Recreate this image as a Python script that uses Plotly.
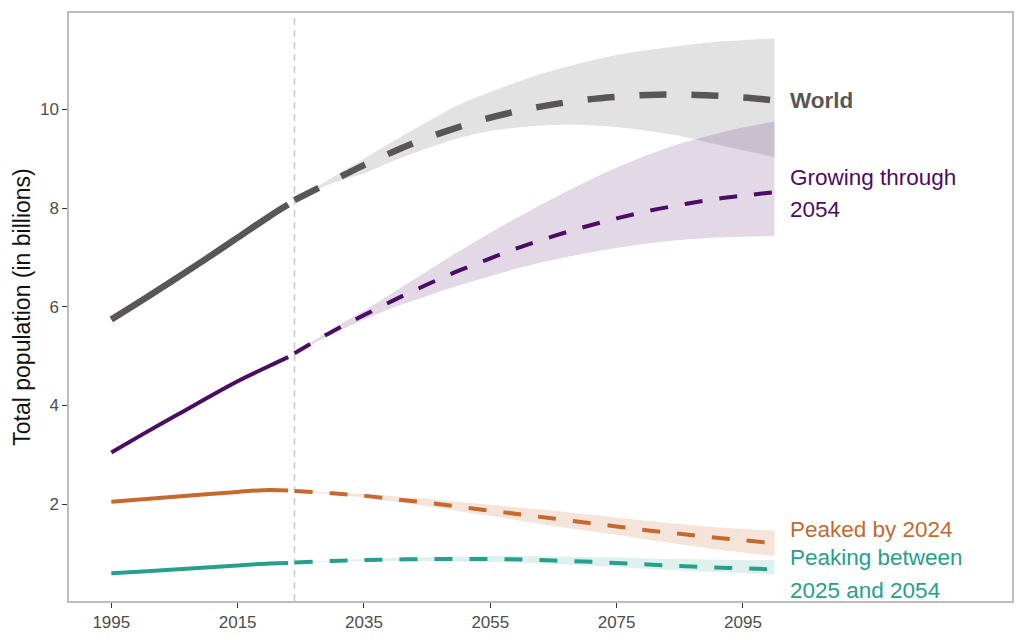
import plotly.graph_objects as go

# ---------------- data (billions) ----------------
hist_years = [1995, 2000, 2005, 2010, 2015, 2020, 2023]
proj_years = [2024, 2030, 2035, 2040, 2045, 2050, 2055, 2060, 2065, 2070,
              2075, 2080, 2085, 2090, 2095, 2100]

world_hist = [5.74, 6.14, 6.55, 6.97, 7.40, 7.83, 8.07]
world_proj = [8.16, 8.55, 8.87, 9.16, 9.42, 9.64, 9.83, 9.98, 10.10, 10.19,
              10.25, 10.29, 10.30, 10.28, 10.24, 10.18]
world_hi = [8.16, 8.62, 9.00, 9.38, 9.74, 10.09, 10.35, 10.59, 10.79, 10.96,
            11.10, 11.20, 11.28, 11.36, 11.40, 11.44]
world_lo = [8.16, 8.50, 8.70, 8.97, 9.21, 9.42, 9.56, 9.64, 9.68, 9.68,
            9.64, 9.56, 9.46, 9.31, 9.17, 9.03]

grow_hist = [3.05, 3.42, 3.78, 4.14, 4.49, 4.80, 4.98]
grow_proj = [5.06, 5.50, 5.83, 6.15, 6.45, 6.73, 6.98, 7.22, 7.43, 7.62,
             7.79, 7.94, 8.06, 8.17, 8.25, 8.32]
grow_hi = [5.06, 5.55, 5.92, 6.32, 6.72, 7.12, 7.50, 7.86, 8.20, 8.52,
           8.82, 9.08, 9.30, 9.48, 9.63, 9.75]
grow_lo = [5.06, 5.45, 5.74, 6.00, 6.22, 6.43, 6.62, 6.80, 6.95, 7.08,
           7.19, 7.28, 7.35, 7.40, 7.42, 7.43]

peaked_hist = [2.05, 2.10, 2.15, 2.20, 2.25, 2.29, 2.28]
peaked_proj = [2.27, 2.22, 2.17, 2.10, 2.03, 1.95, 1.87, 1.79, 1.71, 1.63,
               1.55, 1.47, 1.40, 1.33, 1.27, 1.21]
peaked_hi = [2.27, 2.24, 2.21, 2.16, 2.11, 2.05, 1.99, 1.93, 1.87, 1.80,
             1.73, 1.66, 1.60, 1.54, 1.50, 1.46]
peaked_lo = [2.27, 2.20, 2.13, 2.05, 1.96, 1.86, 1.76, 1.66, 1.56, 1.47,
             1.38, 1.28, 1.19, 1.10, 1.02, 0.95]

peaking_hist = [0.60, 0.64, 0.68, 0.72, 0.76, 0.80, 0.81]
peaking_proj = [0.82, 0.85, 0.87, 0.88, 0.89, 0.89, 0.89, 0.88, 0.86, 0.84,
                0.81, 0.78, 0.75, 0.72, 0.70, 0.68]
peaking_hi = [0.82, 0.86, 0.89, 0.91, 0.93, 0.94, 0.95, 0.95, 0.94, 0.93,
              0.92, 0.90, 0.89, 0.88, 0.87, 0.87]
peaking_lo = [0.82, 0.84, 0.85, 0.85, 0.85, 0.84, 0.83, 0.81, 0.79, 0.76,
              0.73, 0.69, 0.66, 0.63, 0.60, 0.58]

x_ticks = [1995, 2015, 2035, 2055, 2075, 2095]
y_ticks = [2, 4, 6, 8, 10]
cutoff_year = 2024

label_year = 2102.2
labels = [
    ("<b>World</b>", 10.18, "#5a5557"),
    ("Growing through", 8.62, "#4b0d63"),
    ("2054", 7.96, "#4b0d63"),
    ("Peaked by 2024", 1.48, "#c5692f"),
    ("Peaking between", 0.92, "#26a08c"),
    ("2025 and 2054", 0.26, "#26a08c"),
]

FONT = "Liberation Sans, Arial, sans-serif"

# ---------------- styling ----------------
series = [
    (world_hist, world_proj, world_hi, world_lo, "#5a5557", "rgba(90,85,87,0.17)", 6.5, "27px,25px"),
    (grow_hist, grow_proj, grow_hi, grow_lo, "#4b0d63", "rgba(75,13,99,0.16)", 4, "18px,17px"),
    (peaked_hist, peaked_proj, peaked_hi, peaked_lo, "#c5692f", "rgba(197,105,47,0.18)", 4, "18px,17px"),
    (peaking_hist, peaking_proj, peaking_hi, peaking_lo, "#26a08c", "rgba(38,160,140,0.15)", 4, "18px,17px"),
]

fig = go.Figure()

# bands
for h, p, hi, lo, col, fill, w, dash in series:
    fig.add_trace(go.Scatter(x=proj_years, y=hi, mode="lines", line=dict(width=0, shape="spline"),
                             hoverinfo="skip", showlegend=False))
    fig.add_trace(go.Scatter(x=proj_years, y=lo, mode="lines", line=dict(width=0, shape="spline"),
                             fill="tonexty", fillcolor=fill, hoverinfo="skip", showlegend=False))

# lines
for h, p, hi, lo, col, fill, w, dash in series:
    fig.add_trace(go.Scatter(x=hist_years, y=h, mode="lines",
                             line=dict(color=col, width=w, shape="spline"), showlegend=False))
    fig.add_trace(go.Scatter(x=proj_years, y=p, mode="lines",
                             line=dict(color=col, width=w, dash=dash, shape="spline"), showlegend=False))

fig.add_shape(type="line", x0=cutoff_year, x1=cutoff_year, y0=0, y1=1, yref="paper",
              line=dict(color="#c8c8c8", width=1.5, dash="7px,5px"), layer="below")

for txt, yv, col in labels:
    fig.add_annotation(x=label_year, y=yv, text=txt, showarrow=False, xanchor="left",
                       yanchor="middle", font=dict(size=22.5, color=col, family=FONT))

axis_common = dict(showgrid=False, zeroline=False, showline=True, mirror=True,
                   linecolor="#bdbdbd", linewidth=1.5, ticks="outside", ticklen=5,
                   tickcolor="#333333", tickwidth=1.2, automargin=False,
                   tickfont=dict(size=17, color="#4d4d4d", family=FONT))

fig.update_xaxes(range=[1988.3, 2137.6], tickvals=x_ticks, **axis_common)
fig.update_yaxes(range=[0.04, 11.95], tickvals=y_ticks,
                 title=dict(text="Total population (in billions)", standoff=3,
                            font=dict(size=23, color="#111111", family=FONT)),
                 **axis_common)

fig.update_layout(width=1024, height=640, plot_bgcolor="white", paper_bgcolor="white",
                  margin=dict(l=61, r=20, t=5, b=47), showlegend=False)

fig.write_html("out.html")
